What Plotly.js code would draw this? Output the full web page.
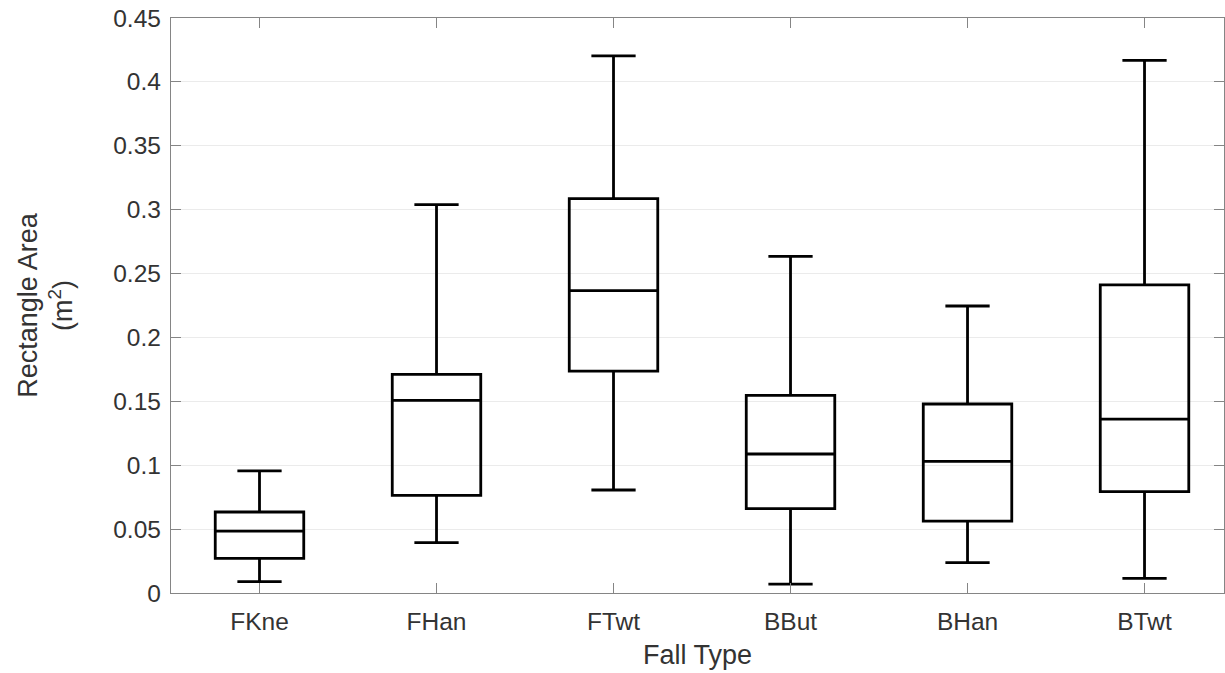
<!DOCTYPE html>
<html>
<head>
<meta charset="utf-8">
<script src="https://cdn.plot.ly/plotly-3.0.1.min.js"></script>
<style>html,body{margin:0;padding:0;background:#fff;}#chart{width:1225px;height:673px;}</style>
</head>
<body>
<div id="chart"></div>
<script>
const categories = ['FKne', 'FHan', 'FTwt', 'BBut', 'BHan', 'BTwt'];
const lowerWhisker = [0.0089, 0.0394, 0.0806, 0.0070, 0.0237, 0.0115];
const q1 = [0.0271, 0.0764, 0.1737, 0.0660, 0.0563, 0.0793];
const median = [0.0485, 0.1508, 0.2366, 0.1088, 0.1030, 0.1360];
const q3 = [0.0634, 0.1711, 0.3086, 0.1547, 0.1479, 0.2411];
const upperWhisker = [0.0955, 0.3039, 0.4203, 0.2635, 0.2246, 0.4168];
const yTickVals = [0, 0.05, 0.1, 0.15, 0.2, 0.25, 0.3, 0.35, 0.4, 0.45];
const yTickText = ['0', '0.05', '0.1', '0.15', '0.2', '0.25', '0.3', '0.35', '0.4', '0.45'];

const trace = {
  type: 'box',
  x: categories,
  q1: q1,
  median: median,
  q3: q3,
  lowerfence: lowerWhisker,
  upperfence: upperWhisker,
  boxpoints: false,
  width: 0.5,
  whiskerwidth: 0.5,
  fillcolor: 'rgba(0,0,0,0)',
  line: {color: '#000000', width: 2.8},
  hoverinfo: 'skip'
};

const axisColor = '#858585';
const textColor = '#333333';
const font = 'Liberation Sans, Arial, sans-serif';

const layout = {
  width: 1225,
  height: 673,
  margin: {l: 171, r: 1, t: 18, b: 80},
  paper_bgcolor: '#ffffff',
  plot_bgcolor: '#ffffff',
  showlegend: false,
  font: {family: font, color: textColor},
  xaxis: {
    type: 'category',
    range: [-0.5, 5.449],
    showline: true,
    linecolor: axisColor,
    linewidth: 1.2,
    mirror: 'ticks',
    ticks: 'inside',
    ticklen: 10,
    tickwidth: 1.2,
    tickcolor: axisColor,
    tickfont: {family: font, size: 24.5, color: textColor},
    ticklabelstandoff: 6,
    showgrid: false,
    zeroline: false,
    title: {text: 'Fall Type', font: {family: font, size: 27, color: textColor}, standoff: 11}
  },
  yaxis: {
    range: [0, 0.45],
    tickmode: 'array',
    tickvals: yTickVals,
    ticktext: yTickText,
    showline: true,
    linecolor: axisColor,
    linewidth: 1.2,
    mirror: 'ticks',
    ticks: 'inside',
    ticklen: 10,
    tickwidth: 1.2,
    tickcolor: axisColor,
    tickfont: {family: font, size: 24.5, color: textColor},
    ticklabelstandoff: 4,
    showgrid: true,
    gridcolor: '#ebebeb',
    gridwidth: 1.2,
    zeroline: false,
    title: {text: 'Rectangle Area<br>(m<sup>2</sup>)', font: {family: font, size: 27, color: textColor}, standoff: 32}
  }
};

Plotly.newPlot('chart', [trace], layout, {displayModeBar: false, staticPlot: true});
</script>
</body>
</html>
